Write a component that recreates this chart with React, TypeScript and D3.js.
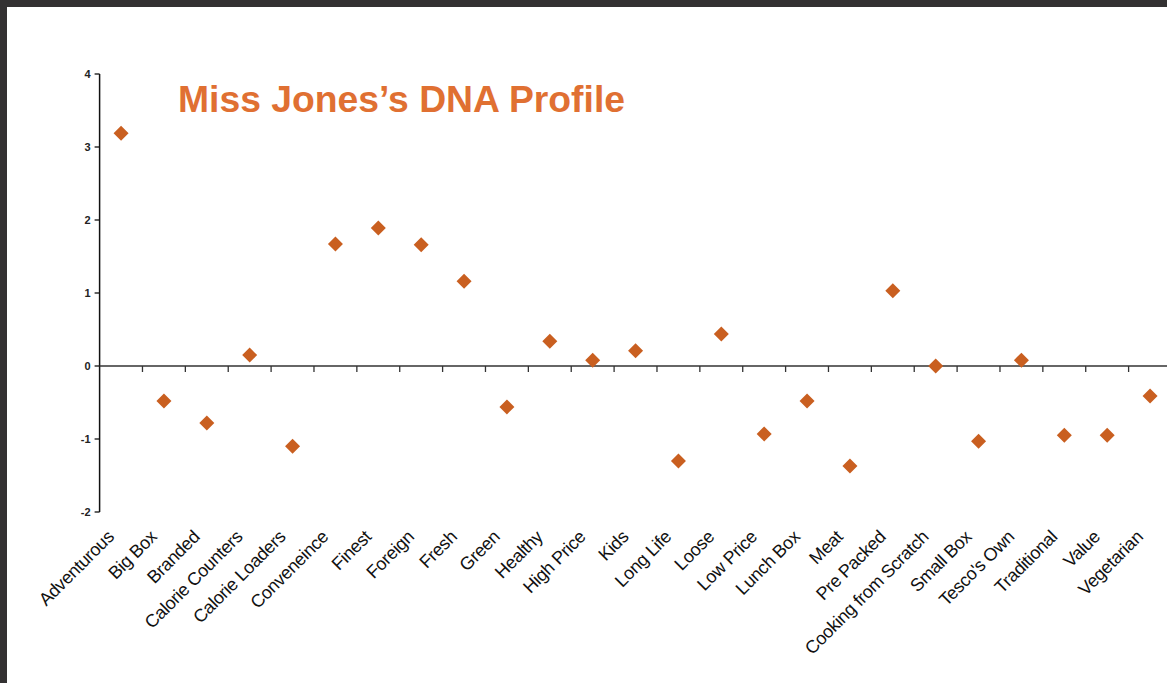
import React from "react";
import * as d3 from "d3";

const categories: string[] = [
  "Adventurous", "Big Box", "Branded", "Calorie Counters", "Calorie Loaders",
  "Conveneince", "Finest", "Foreign", "Fresh", "Green", "Healthy", "High Price",
  "Kids", "Long Life", "Loose", "Low Price", "Lunch Box", "Meat", "Pre Packed",
  "Cooking from Scratch", "Small Box", "Tesco's Own", "Traditional", "Value", "Vegetarian",
];
const values: number[] = [
  3.19, -0.48, -0.78, 0.15, -1.1,
  1.67, 1.89, 1.66, 1.16, -0.56, 0.34, 0.08,
  0.21, -1.3, 0.44, -0.93, -0.48, -1.37, 1.03,
  0.0, -1.03, 0.08, -0.95, -0.95, -0.41,
];
const yTicks: number[] = [4, 3, 2, 1, 0, -1, -2];
const title = "Miss Jones\u2019s DNA Profile";

const W = 1167;
const H = 683;

export default function App() {
  const x = d3.scaleBand<string>().domain(categories).range([99.6, 99.6 + 42.875 * 25]).padding(0);
  const y = d3.scaleLinear().domain([-2, 4]).range([512, 74]);
  const y0 = y(0);
  const half = 7.5;
  const diamond = (cx: number, cy: number) =>
    `M${cx},${cy - half}L${cx + half},${cy}L${cx},${cy + half}L${cx - half},${cy}Z`;

  return (
    <svg
      width={W}
      height={H}
      style={{ position: "fixed", left: 0, top: 0, background: "#fff" }}
      fontFamily="'Liberation Sans', Arial, sans-serif"
    >
      <rect x={0} y={0} width={W} height={H} fill="#fff" />
      {/* dark frame */}
      <rect x={0} y={0} width={W} height={7} fill="#333132" />
      <rect x={0} y={0} width={7} height={H} fill="#333132" />

      {/* title */}
      <text x={178} y={112} fontSize={36} fontWeight="bold" fill="#E07032" textLength={447} lengthAdjust="spacingAndGlyphs">
        {title}
      </text>

      {/* y axis */}
      <line x1={x.range()[0]} x2={x.range()[0]} y1={y(4)} y2={y(-2)} stroke="#111" strokeWidth={1.5} />
      {yTicks.map((t) => (
        <g key={t}>
          <line x1={x.range()[0] - 5} x2={x.range()[0]} y1={y(t)} y2={y(t)} stroke="#111" strokeWidth={1.3} />
          <text x={x.range()[0] - 9} y={y(t)} dy="0.35em" textAnchor="end" fontSize={11} fontWeight="bold" fill="#222">
            {t}
          </text>
        </g>
      ))}

      {/* x axis at zero */}
      <line x1={x.range()[0]} x2={W} y1={y0} y2={y0} stroke="#333" strokeWidth={1.5} />
      {categories.map((c, i) =>
        i === 0 ? null : (
          <line key={"t" + c} x1={x(c)!} x2={x(c)!} y1={y0} y2={y0 + 6} stroke="#333" strokeWidth={1.3} />
        )
      )}
      <line x1={x.range()[1]} x2={x.range()[1]} y1={y0} y2={y0 + 6} stroke="#333" strokeWidth={1.3} />

      {/* category labels */}
      {categories.map((c) => {
        const cx = x(c)! + x.bandwidth() / 2;
        return (
          <text
            key={"l" + c}
            transform={`translate(${cx - 6},${538}) rotate(-45)`}
            textAnchor="end"
            fontSize={18}
            letterSpacing={-0.35}
            fill="#111"
          >
            {c}
          </text>
        );
      })}

      {/* points */}
      {categories.map((c, i) => {
        const cx = x(c)! + x.bandwidth() / 2;
        return <path key={"p" + c} d={diamond(cx, y(values[i]))} fill="#C95F20" />;
      })}
    </svg>
  );
}
